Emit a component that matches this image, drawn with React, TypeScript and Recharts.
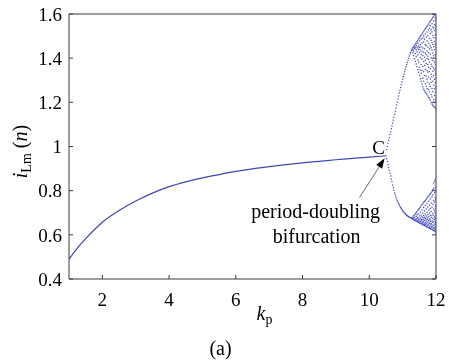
import React from 'react';
import { ComposedChart, Line, Scatter, XAxis, YAxis, ReferenceDot } from 'recharts';

// Period-1 branch: steady-state i_Lm(n) against kp
const kpCurve = [1, 1.25, 1.5, 1.75, 2, 2.5, 3, 3.5, 4, 4.5, 5, 5.5, 6, 6.5, 7, 7.5, 8, 8.5, 9, 9.5, 10, 10.52];
const iLmCurve = [0.49, 0.54, 0.583, 0.622, 0.657, 0.71, 0.753, 0.789, 0.818, 0.84, 0.858, 0.873, 0.887, 0.899, 0.909, 0.918, 0.926, 0.933, 0.94, 0.946, 0.952, 0.958];

// Period-2 branches after the period-doubling point C
const p2Kp = [10.52, 10.54, 10.56, 10.58, 10.6, 10.62, 10.64, 10.66, 10.68, 10.7, 10.72, 10.74, 10.76, 10.78, 10.8, 10.82, 10.84, 10.86, 10.88, 10.9, 10.92, 10.94, 10.96, 10.98, 11.0, 11.02, 11.04, 11.06, 11.08, 11.1, 11.12, 11.14, 11.16, 11.18, 11.2, 11.22, 11.24, 11.26];
const p2Upper = [0.985, 1.0, 1.015, 1.028, 1.04, 1.054, 1.067, 1.08, 1.093, 1.106, 1.119, 1.132, 1.146, 1.16, 1.174, 1.188, 1.202, 1.215, 1.229, 1.242, 1.255, 1.267, 1.28, 1.292, 1.304, 1.316, 1.327, 1.338, 1.349, 1.36, 1.37, 1.38, 1.39, 1.4, 1.41, 1.419, 1.427, 1.434];
const p2Lower = [0.945, 0.932, 0.918, 0.905, 0.893, 0.88, 0.866, 0.853, 0.84, 0.826, 0.814, 0.802, 0.791, 0.781, 0.771, 0.762, 0.754, 0.747, 0.741, 0.735, 0.729, 0.724, 0.719, 0.714, 0.71, 0.706, 0.702, 0.698, 0.695, 0.692, 0.689, 0.686, 0.684, 0.682, 0.68, 0.678, 0.677, 0.676];

// Chaotic region: sampled iterates for each kp value
const chaosKp = [11.28, 11.305, 11.33, 11.355, 11.38, 11.405, 11.43, 11.455, 11.48, 11.505, 11.53, 11.555, 11.58, 11.605, 11.63, 11.655, 11.68, 11.705, 11.73, 11.755, 11.78, 11.805, 11.83, 11.855, 11.88, 11.905, 11.93, 11.955, 11.98, 11.995];
const chaosUpper = [
  [1.436, 1.441],
  [1.423, 1.439, 1.447],
  [1.412, 1.433, 1.451],
  [1.397, 1.444, 1.452, 1.459],
  [1.386, 1.421, 1.447, 1.464],
  [1.374, 1.407, 1.438, 1.458, 1.469],
  [1.361, 1.429, 1.451, 1.476],
  [1.349, 1.392, 1.414, 1.446, 1.467, 1.481],
  [1.336, 1.381, 1.439, 1.455, 1.487],
  [1.321, 1.359, 1.426, 1.448, 1.478, 1.493],
  [1.307, 1.346, 1.403, 1.437, 1.462, 1.498],
  [1.296, 1.332, 1.371, 1.418, 1.452, 1.487, 1.504],
  [1.283, 1.344, 1.396, 1.431, 1.469, 1.509],
  [1.271, 1.309, 1.362, 1.412, 1.446, 1.491, 1.515],
  [1.259, 1.296, 1.338, 1.385, 1.427, 1.473, 1.501, 1.522],
  [1.252, 1.321, 1.367, 1.404, 1.443, 1.486, 1.527],
  [1.246, 1.284, 1.349, 1.391, 1.422, 1.462, 1.509, 1.533],
  [1.241, 1.273, 1.318, 1.376, 1.415, 1.457, 1.496, 1.538],
  [1.235, 1.262, 1.305, 1.344, 1.398, 1.433, 1.478, 1.519, 1.544],
  [1.229, 1.291, 1.337, 1.371, 1.409, 1.451, 1.503, 1.549],
  [1.222, 1.258, 1.314, 1.359, 1.394, 1.426, 1.467, 1.527, 1.555],
  [1.216, 1.247, 1.283, 1.338, 1.381, 1.443, 1.489, 1.536, 1.561],
  [1.209, 1.272, 1.306, 1.352, 1.418, 1.456, 1.512, 1.548, 1.567],
  [1.199, 1.236, 1.291, 1.327, 1.373, 1.402, 1.447, 1.481, 1.529, 1.573],
  [1.192, 1.224, 1.263, 1.315, 1.362, 1.436, 1.471, 1.518, 1.556, 1.578],
  [1.187, 1.249, 1.296, 1.341, 1.389, 1.423, 1.462, 1.503, 1.541, 1.584],
  [1.182, 1.213, 1.277, 1.322, 1.357, 1.411, 1.452, 1.494, 1.537, 1.568, 1.59],
  [1.178, 1.231, 1.262, 1.304, 1.348, 1.383, 1.438, 1.476, 1.525, 1.553, 1.595],
  [1.174, 1.205, 1.246, 1.289, 1.331, 1.372, 1.417, 1.464, 1.507, 1.546, 1.582, 1.599],
  [1.171, 1.219, 1.268, 1.312, 1.356, 1.401, 1.449, 1.491, 1.533, 1.571, 1.598],
];
const chaosLower = [
  [0.673, 0.677],
  [0.671, 0.681],
  [0.668, 0.675, 0.686],
  [0.666, 0.679, 0.69],
  [0.664, 0.671, 0.696],
  [0.662, 0.668, 0.683, 0.7],
  [0.66, 0.674, 0.691, 0.705],
  [0.658, 0.665, 0.679, 0.711],
  [0.656, 0.662, 0.672, 0.696, 0.716],
  [0.654, 0.667, 0.685, 0.72],
  [0.652, 0.659, 0.676, 0.703, 0.725],
  [0.65, 0.664, 0.671, 0.69, 0.731],
  [0.648, 0.655, 0.668, 0.682, 0.713, 0.736],
  [0.646, 0.653, 0.662, 0.677, 0.699, 0.741],
  [0.644, 0.658, 0.671, 0.688, 0.724, 0.747],
  [0.642, 0.649, 0.665, 0.68, 0.709, 0.751],
  [0.64, 0.647, 0.656, 0.674, 0.694, 0.733, 0.756],
  [0.638, 0.652, 0.668, 0.685, 0.717, 0.761],
  [0.636, 0.644, 0.661, 0.677, 0.702, 0.741, 0.766],
  [0.634, 0.642, 0.655, 0.671, 0.692, 0.726, 0.771],
  [0.632, 0.648, 0.664, 0.683, 0.711, 0.752, 0.776],
  [0.63, 0.637, 0.653, 0.673, 0.699, 0.735, 0.781],
  [0.628, 0.643, 0.659, 0.667, 0.689, 0.719, 0.762, 0.786],
  [0.626, 0.634, 0.651, 0.678, 0.706, 0.744, 0.791],
  [0.624, 0.638, 0.646, 0.663, 0.686, 0.725, 0.771, 0.797],
  [0.622, 0.63, 0.657, 0.674, 0.698, 0.739, 0.782, 0.804],
  [0.62, 0.633, 0.642, 0.661, 0.69, 0.717, 0.756, 0.81, 0.835],
  [0.617, 0.627, 0.649, 0.669, 0.681, 0.709, 0.747, 0.792, 0.844],
  [0.614, 0.625, 0.638, 0.655, 0.676, 0.701, 0.731, 0.768, 0.815, 0.852],
  [0.612, 0.623, 0.634, 0.648, 0.663, 0.689, 0.722, 0.759, 0.802],
];

const xTicks = [2, 4, 6, 8, 10, 12];
const yTicks = [0.4, 0.6, 0.8, 1, 1.2, 1.4, 1.6];

type Pt = { x: number; y: number };

const curveData: Pt[] = kpCurve.map((x, i) => ({ x, y: iLmCurve[i] }));
const periodTwoData: Pt[] = [
  ...p2Kp.map((x, i) => ({ x, y: p2Upper[i] })),
  ...p2Kp.map((x, i) => ({ x, y: p2Lower[i] })),
];
const chaosData: Pt[] = chaosKp.flatMap((x, i) => [
  ...chaosUpper[i].map((y) => ({ x, y })),
  ...chaosLower[i].map((y) => ({ x, y })),
]);

const FONT = "'Liberation Serif', 'Times New Roman', 'DejaVu Serif', serif";
const BLUE = '#3d47b3';
const DOT_BLUE = '#4650bd';
const AXIS = '#3a3a3a';
const serif = { fontFamily: FONT };

const Dot = (p: any) => <circle cx={p.cx} cy={p.cy} r={0.75} fill={DOT_BLUE} />;

// Marker "C", arrow and caption anchored at the period-doubling point
const Annotation = (p: any) => {
  const { cx, cy } = p;
  if (cx == null || cy == null) return null;
  const tipX = cx - 2;
  const tipY = cy + 3;
  const tailX = cx - 27;
  const tailY = cy + 42;
  const dx = tipX - tailX;
  const dy = tipY - tailY;
  const len = Math.hypot(dx, dy);
  const ux = dx / len;
  const uy = dy / len;
  const bx = tipX - ux * 10;
  const by = tipY - uy * 10;
  const px = -uy * 3.5;
  const py = ux * 3.5;
  return (
    <g style={serif}>
      <text x={cx - 8} y={cy - 1} textAnchor="middle" fontSize={19} fill="#000">C</text>
      <line x1={tailX} y1={tailY} x2={bx} y2={by} stroke="#555" strokeWidth={0.9} />
      <polygon points={`${tipX},${tipY} ${bx + px},${by + py} ${bx - px},${by - py}`} fill="#000" />
      <text x={cx - 71} y={cy + 63} textAnchor="middle" fontSize={20} fill="#000">period-doubling</text>
      <text x={cx - 70} y={cy + 88} textAnchor="middle" fontSize={20} fill="#000">bifurcation</text>
    </g>
  );
};

const XTitle = (p: any) => {
  const vb = p.viewBox || { x: 69, y: 279, width: 367, height: 40 };
  const cx = vb.x + vb.width / 2;
  return (
    <g style={serif} fill="#000">
      <text x={cx + 12} y={vb.y + 41} textAnchor="middle" fontSize={20}>
        <tspan fontStyle="italic">k</tspan>
        <tspan fontSize={14} dy={4}>p</tspan>
      </text>
      <text x={cx - 32} y={vb.y + 76} textAnchor="middle" fontSize={20}>(a)</text>
    </g>
  );
};

const YTitle = (p: any) => {
  const vb = p.viewBox || { x: 0, y: 14, width: 69, height: 265 };
  const x = 27;
  const y = vb.y + vb.height / 2 + 5;
  return (
    <text x={x} y={y} transform={`rotate(-90, ${x}, ${y})`} textAnchor="middle" style={serif} fontSize={20} fill="#000">
      <tspan fontStyle="italic">i</tspan>
      <tspan fontSize={14} dy={4}>Lm</tspan>
      <tspan dy={-4}> (</tspan>
      <tspan fontStyle="italic">n</tspan>
      <tspan>)</tspan>
    </text>
  );
};

const fmtY = (v: number) => String(Math.round(v * 10) / 10);
const tickStyle = { fontFamily: FONT, fontSize: 19, fill: '#000', style: serif };

export default function App() {
  return (
    <div style={{ position: 'fixed', left: 0, top: 0, width: 449, height: 360 }}>
      <ComposedChart width={449} height={360} margin={{ top: 13, right: 12, bottom: 41, left: 0 }}>
        <XAxis
          dataKey="x"
          type="number"
          domain={[1, 12]}
          ticks={xTicks}
          allowDataOverflow
          height={40}
          tickSize={-4}
          tickMargin={18}
          stroke={AXIS}
          tick={tickStyle}
          label={<XTitle />}
        />
        <XAxis
          xAxisId="top"
          orientation="top"
          type="number"
          domain={[1, 12]}
          ticks={xTicks}
          allowDataOverflow
          height={1}
          tickSize={-4}
          stroke={AXIS}
          tickFormatter={() => ''}
        />
        <YAxis
          type="number"
          domain={[0.4, 1.6]}
          ticks={yTicks}
          allowDataOverflow
          width={69}
          tickSize={-4}
          tickMargin={11}
          stroke={AXIS}
          tick={tickStyle}
          tickFormatter={fmtY}
          label={<YTitle />}
        />
        <YAxis
          yAxisId="right"
          orientation="right"
          type="number"
          domain={[0.4, 1.6]}
          ticks={yTicks}
          allowDataOverflow
          width={1}
          tickSize={-4}
          stroke={AXIS}
          tickFormatter={() => ''}
        />
        <Line
          data={curveData}
          dataKey="y"
          type="monotone"
          stroke={BLUE}
          strokeWidth={1.2}
          dot={false}
          isAnimationActive={false}
        />
        <Scatter data={periodTwoData} dataKey="y" shape={Dot} isAnimationActive={false} />
        <Scatter data={chaosData} dataKey="y" shape={Dot} isAnimationActive={false} />
        <ReferenceDot x={10.52} y={0.96} r={0} shape={Annotation} ifOverflow="visible" />
      </ComposedChart>
    </div>
  );
}
